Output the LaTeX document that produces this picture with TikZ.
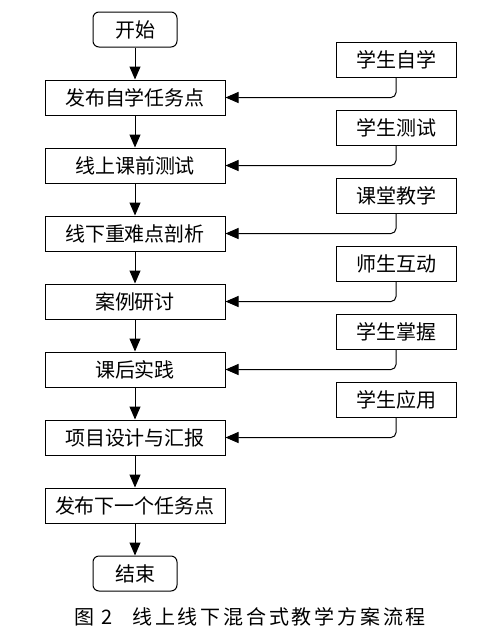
\documentclass[tikz,border=0pt]{standalone}
\usepackage{fontspec}
\newfontfamily\cjk{Noto Sans CJK SC}
\newfontfamily\capfont[LetterSpace=14]{Noto Sans CJK SC}
\usetikzlibrary{arrows.meta, positioning}

\begin{document}
\begin{tikzpicture}[x=1pt, y=1pt,
      box/.style={rectangle, draw, line width=1pt, minimum width=180pt,
                  minimum height=35pt, inner sep=0pt,
                  font=\cjk\fontsize{20}{23}\selectfont},
      term/.style={box, rounded corners=6pt, minimum width=84pt},
      note/.style={box, minimum width=120pt},
      arr/.style={-{Triangle[length=13pt, width=11pt]}, line width=1pt},
      link/.style={arr, rounded corners=5pt},
    ]
    \useasboundingbox (0,0) rectangle (500,-633);
    \node[term] (start) at (135,-29.5) {开始};
    \node[box, below=32pt of start] (task) {发布自学任务点};
    \node[box, below=32pt of task] (quiz) {线上课前测试};
    \node[box, below=32pt of quiz] (key) {线下重难点剖析};
    \node[box, below=32pt of key] (case) {案例研讨};
    \node[box, below=32pt of case] (prac) {课后实践};
    \node[box, below=32pt of prac] (proj) {项目设计与汇报};
    \node[box, below=32pt of proj] (next) {发布下一个任务点};
    \node[term, below=32pt of next] (stop) {结束};
    % side notes
    \node[note, above right=2pt and 110pt of task] (self) {学生自学};
    \node[note, above right=2pt and 110pt of quiz] (test) {学生测试};
    \node[note, above right=2pt and 110pt of key] (teach) {课堂教学};
    \node[note, above right=2pt and 110pt of case] (inter) {师生互动};
    \node[note, above right=2pt and 110pt of prac] (grasp) {学生掌握};
    \node[note, above right=2pt and 110pt of proj] (apply) {学生应用};
    \draw[arr] (start) -- (task);
    \draw[arr] (task) -- (quiz);
    \draw[arr] (quiz) -- (key);
    \draw[arr] (key) -- (case);
    \draw[arr] (case) -- (prac);
    \draw[arr] (prac) -- (proj);
    \draw[arr] (proj) -- (next);
    \draw[arr] (next) -- (stop);
    \draw[link] (self.south) |- (task);
    \draw[link] (test.south) |- (quiz);
    \draw[link] (teach.south) |- (key);
    \draw[link] (inter.south) |- (case);
    \draw[link] (grasp.south) |- (prac);
    \draw[link] (apply.south) |- (proj);
    \node[font=\capfont\fontsize{20}{24}\selectfont] (cap) at (250,-617)
      {图 2\quad 线上线下混合式教学方案流程};
  \end{tikzpicture}
\end{document}
